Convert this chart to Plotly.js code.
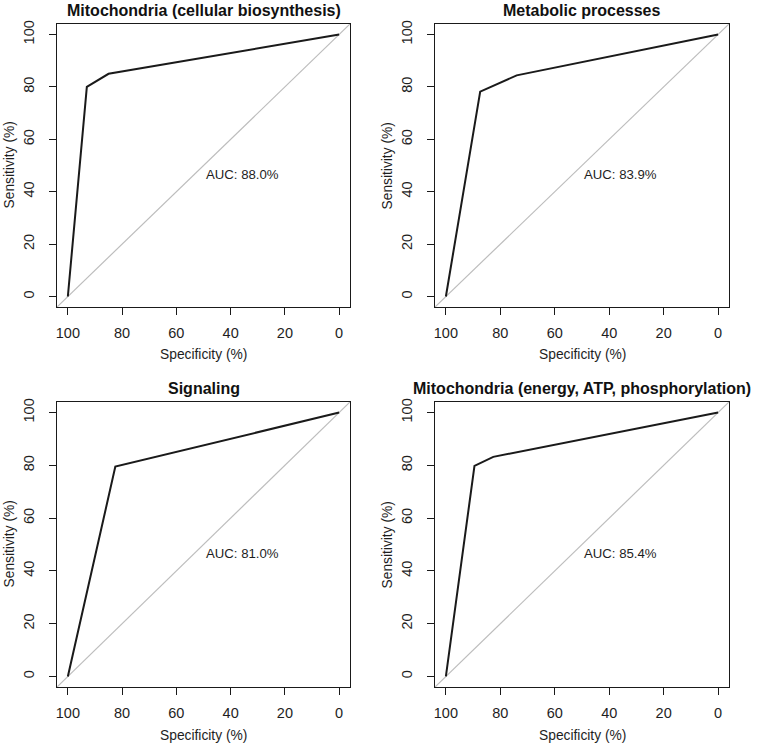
<!DOCTYPE html>
<html>
<head>
<meta charset="utf-8">
<script src="https://cdn.plot.ly/plotly-3.0.1.min.js"></script>
<style>html,body{margin:0;padding:0;background:#fff;}#chart{width:760px;height:746px;}</style>
</head>
<body>
<div id="chart"></div>
<script>
// ---- data ----
const panelTitles = [
  "Mitochondria (cellular biosynthesis)",
  "Metabolic processes",
  "Signaling",
  "Mitochondria (energy, ATP, phosphorylation)"
];
const aucLabels = ["AUC: 88.0%", "AUC: 83.9%", "AUC: 81.0%", "AUC: 85.4%"];

const spec1 = [100, 93, 85, 0];
const sens1 = [0, 80, 85, 100];
const spec2 = [100, 87.4, 74, 0];
const sens2 = [0, 78.2, 84.4, 100];
const spec3 = [100, 82.5, 0];
const sens3 = [0, 79.5, 100];
const spec4 = [100, 89.5, 82.6, 0];
const sens4 = [0, 79.8, 83.2, 100];

const tickVals = [0, 20, 40, 60, 80, 100];
const tickText = ["0", "20", "40", "60", "80", "100"];
const xRange = [104, -4];
const yRange = [-4, 104];

const specs = [spec1, spec2, spec3, spec4];
const senss = [sens1, sens2, sens3, sens4];

// ---- layout geometry ----
const W = 760, H = 746;
const colX = [[57 / W, 350 / W], [435 / W, 729 / W]];
const rowY = [[1 - 307 / H, 1 - 24 / H], [1 - 687 / H, 1 - 402 / H]];

const FONT = "Liberation Sans, Arial, sans-serif";
const TXT = "#1e1e1e";

const traces = [];
const annotations = [];
const layout = {
  width: W, height: H,
  margin: {l: 0, r: 0, t: 0, b: 0},
  paper_bgcolor: "#fff", plot_bgcolor: "#fff",
  showlegend: false,
  font: {family: FONT, color: TXT, size: 13},
  annotations: annotations
};

for (let i = 0; i < 4; i++) {
  const n = i + 1;
  const xa = n === 1 ? "x" : "x" + n;
  const ya = n === 1 ? "y" : "y" + n;
  const col = i % 2, row = Math.floor(i / 2);

  // diagonal reference (spans the full axis ranges)
  traces.push({
    type: "scatter", mode: "lines",
    x: xRange.slice(), y: yRange.slice(),
    xaxis: xa, yaxis: ya,
    line: {color: "#bdbdbd", width: 1.2},
    hoverinfo: "skip"
  });
  // ROC curve
  traces.push({
    type: "scatter", mode: "lines",
    x: specs[i], y: senss[i],
    xaxis: xa, yaxis: ya,
    line: {color: "#1a1a1a", width: 2}
  });

  const axCommon = {
    showgrid: false, zeroline: false,
    showline: true, mirror: true, linecolor: "#1a1a1a", linewidth: 1,
    ticks: "outside", ticklen: 7, tickwidth: 1, tickcolor: "#1a1a1a",
    tickvals: tickVals, ticktext: tickText,
    tickfont: {family: FONT, size: 14.5, color: TXT},
    fixedrange: true
  };
  layout["xaxis" + (n === 1 ? "" : n)] = Object.assign({}, axCommon, {
    domain: colX[col], range: xRange.slice(), anchor: ya,
    ticklabelstandoff: 6
  });
  layout["yaxis" + (n === 1 ? "" : n)] = Object.assign({}, axCommon, {
    domain: rowY[row], range: yRange.slice(), anchor: xa,
    tickangle: -90, ticklabelstandoff: 9
  });

  const xd = xa + " domain", yd = ya + " domain";
  annotations.push({
    text: "<b>" + panelTitles[i] + "</b>",
    xref: xd, yref: yd, x: 0.5, y: 1, xanchor: "center", yanchor: "bottom",
    yshift: 3, showarrow: false,
    font: {family: FONT, size: 16, color: "#111"}
  });
  annotations.push({
    text: "Specificity (%)",
    xref: xd, yref: yd, x: 0.5, y: 0, xanchor: "center", yanchor: "middle",
    yshift: -48, showarrow: false,
    font: {family: FONT, size: 13.8, color: TXT}
  });
  annotations.push({
    text: "Sensitivity (%)",
    xref: xd, yref: yd, x: 0, y: 0.5, xanchor: "center", yanchor: "middle",
    xshift: -48, textangle: -90, showarrow: false,
    font: {family: FONT, size: 13.8, color: TXT}
  });
  annotations.push({
    text: aucLabels[i],
    xref: xa, yref: ya, x: 50, y: 50, xanchor: "left", yanchor: "top",
    yshift: 1, showarrow: false,
    font: {family: FONT, size: 13.2, color: TXT}
  });
}

Plotly.newPlot("chart", traces, layout, {staticPlot: true, displayModeBar: false});
</script>
</body>
</html>
